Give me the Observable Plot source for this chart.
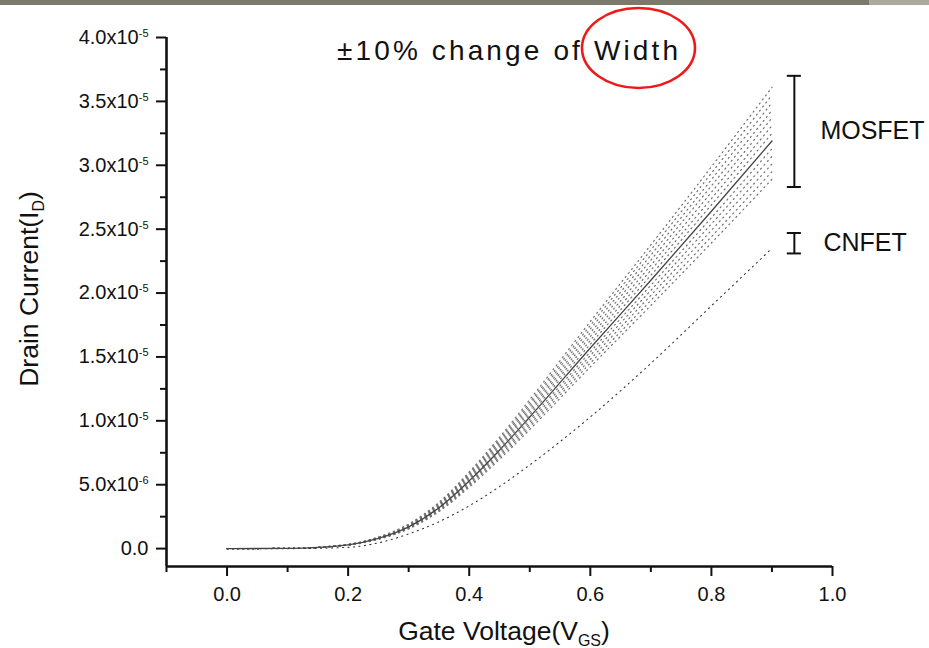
<!DOCTYPE html>
<html>
<head>
<meta charset="utf-8">
<script src="https://cdn.jsdelivr.net/npm/d3@7"></script>
<script src="https://cdn.jsdelivr.net/npm/@observablehq/plot@0.6"></script>
<style>
  html, body { margin: 0; padding: 0; background: #fff; }
  #chart svg { display: block; }
</style>
</head>
<body>
<div id="chart"></div>
<script>
// ---- Data (drain current in units of 1e-6 A) ----
const vgs = [0, 0.1, 0.2, 0.25, 0.3, 0.35, 0.4, 0.45, 0.5, 0.6, 0.7, 0.8, 0.9];

const mosfetNominal = [0, 0.02, 0.3, 0.8, 1.7, 3.2, 5.3, 7.7, 10.3, 15.7, 21.0, 26.4, 31.9];

const mosfetUp7 = [0, 0.02, 0.34, 0.91, 1.92, 3.62, 6.0, 8.71, 11.66, 17.77, 23.77, 29.88, 36.1];
const mosfetUp6 = [0, 0.02, 0.33, 0.89, 1.89, 3.56, 5.9, 8.57, 11.46, 17.47, 23.37, 29.38, 35.5];
const mosfetUp5 = [0, 0.02, 0.33, 0.88, 1.86, 3.5, 5.8, 8.42, 11.27, 17.18, 22.97, 28.88, 34.9];
const mosfetUp4 = [0, 0.02, 0.32, 0.86, 1.83, 3.44, 5.7, 8.28, 11.07, 16.88, 22.58, 28.39, 34.3];
const mosfetUp3 = [0, 0.02, 0.32, 0.85, 1.8, 3.38, 5.6, 8.13, 10.88, 16.59, 22.18, 27.89, 33.7];
const mosfetUp2 = [0, 0.02, 0.31, 0.83, 1.76, 3.32, 5.5, 7.99, 10.69, 16.29, 21.79, 27.39, 33.1];
const mosfetUp1 = [0, 0.02, 0.31, 0.82, 1.73, 3.26, 5.4, 7.84, 10.49, 16.0, 21.39, 26.9, 32.5];
const mosfetDn1 = [0, 0.02, 0.29, 0.78, 1.67, 3.14, 5.2, 7.56, 10.11, 15.4, 20.61, 25.9, 31.3];
const mosfetDn2 = [0, 0.02, 0.29, 0.77, 1.64, 3.08, 5.1, 7.41, 9.91, 15.11, 20.21, 25.41, 30.7];
const mosfetDn3 = [0, 0.02, 0.28, 0.75, 1.6, 3.02, 5.0, 7.27, 9.72, 14.81, 19.82, 24.91, 30.1];
const mosfetDn4 = [0, 0.02, 0.28, 0.74, 1.57, 2.96, 4.9, 7.12, 9.53, 14.52, 19.42, 24.41, 29.5];
const mosfetDn5 = [0, 0.02, 0.27, 0.72, 1.54, 2.9, 4.8, 6.98, 9.33, 14.22, 19.03, 23.92, 28.9];

const cnfet = [0, 0, 0.1, 0.45, 1.15, 2.1, 3.35, 4.85, 6.55, 10.3, 14.5, 19.0, 23.5];

// spread markers (A) and their labels
const rangeLabels = ["MOSFET", "CNFET"];
const rangeTop = [3.7e-5, 2.47e-5];
const rangeBottom = [2.83e-5, 2.31e-5];
const rangeLabelY = [3.27e-5, 2.39e-5];
const rangeLabelX = [0.98, 0.985];

// axes
const xTicks = [0, 0.2, 0.4, 0.6, 0.8, 1.0];
const xTickLabels = ["0.0", "0.2", "0.4", "0.6", "0.8", "1.0"];
const xMinorTicks = [-0.1, 0.1, 0.3, 0.5, 0.7, 0.9];
const yTicks = [0, 5e-6, 1e-5, 1.5e-5, 2e-5, 2.5e-5, 3e-5, 3.5e-5, 4e-5];
const yTickLabels = ["0.0", "5.0x10^-6", "1.0x10^-5", "1.5x10^-5", "2.0x10^-5",
                     "2.5x10^-5", "3.0x10^-5", "3.5x10^-5", "4.0x10^-5"];
const yMinorTicks = [2.5e-6, 7.5e-6, 1.25e-5, 1.75e-5, 2.25e-5, 2.75e-5, 3.25e-5, 3.75e-5];

const xDomain = [-0.1, 1.0];
const yDomain = [-1.4e-6, 4e-5];

// ---- Build tables ----
const toRows = (arr, name) => arr.map((v, i) => ({ v: vgs[i], id: v * 1e-6, curve: name }));
const variants = [
  [mosfetUp7, "u7"], [mosfetUp6, "u6"], [mosfetUp5, "u5"], [mosfetUp4, "u4"],
  [mosfetUp3, "u3"], [mosfetUp2, "u2"], [mosfetUp1, "u1"], [mosfetDn1, "d1"],
  [mosfetDn2, "d2"], [mosfetDn3, "d3"], [mosfetDn4, "d4"], [mosfetDn5, "d5"]
];
const variantRows = variants.flatMap(([a, n]) => toRows(a, n));
const nominalRows = toRows(mosfetNominal, "nominal");
const cnfetRows = toRows(cnfet, "cnfet");

const ranges = rangeLabels.map((l, i) => ({ label: l, top: rangeTop[i], bottom: rangeBottom[i], ly: rangeLabelY[i], lx: rangeLabelX[i] }));
const barX = 0.937, capHalf = 0.0116;
const caps = ranges.flatMap(r => [{ y: r.top }, { y: r.bottom }]);

const FONT = "'Liberation Sans', Arial, Helvetica, sans-serif";

const chart = Plot.plot({
  width: 929,
  height: 648,
  marginLeft: 166,
  marginRight: 97,
  marginTop: 37,
  marginBottom: 82,
  x: { domain: xDomain },
  y: { domain: yDomain },
  style: { fontFamily: FONT, fontSize: "20px", color: "#111", background: "#fff", overflow: "visible" },
  marks: [
    // curves
    Plot.line(variantRows, { x: "v", y: "id", z: "curve", stroke: "#707070", strokeWidth: 1.2,
      strokeDasharray: "1.1,4", curve: "monotone-x" }),
    Plot.line(cnfetRows, { x: "v", y: "id", stroke: "#333", strokeWidth: 1.1,
      strokeDasharray: "1.1,4.4", curve: "monotone-x" }),
    Plot.line(nominalRows, { x: "v", y: "id", stroke: "#444", strokeWidth: 1.3, curve: "monotone-x" }),

    // spread bars
    Plot.ruleX(ranges, { x: () => barX, y1: "top", y2: "bottom", stroke: "#111", strokeWidth: 2 }),
    Plot.ruleY(caps, { y: "y", x1: () => barX - capHalf, x2: () => barX + capHalf, stroke: "#111", strokeWidth: 2 }),
    Plot.text(ranges, { x: "lx", y: "ly", text: "label",
      textAnchor: "start", fontSize: 25, fill: "#111" }),

    // axes
    Plot.axisX({ ticks: xMinorTicks, tickSize: 6, strokeWidth: 2, tickFormat: () => "", label: null }),
    Plot.axisX({ ticks: xTicks, tickSize: 10, tickPadding: 10, strokeWidth: 2, fontSize: 20,
      tickFormat: (d) => xTickLabels[xTicks.findIndex(t => Math.abs(t - d) < 1e-9)], label: null }),
    Plot.axisY({ ticks: yMinorTicks, tickSize: 6, strokeWidth: 2, tickFormat: () => "", label: null }),
    Plot.axisY({ ticks: yTicks, tickSize: 10, tickPadding: 8, strokeWidth: 2, fontSize: 20,
      tickFormat: (d) => yTickLabels[yTicks.findIndex(t => Math.abs(t - d) < 1e-12)], label: null }),
    Plot.ruleX([xDomain[0]], { stroke: "#111", strokeWidth: 2.6 }),
    Plot.ruleY([yDomain[0]], { stroke: "#111", strokeWidth: 2.6 })
  ]
});

document.getElementById("chart").appendChild(chart);
const svg = d3.select(chart);

// superscript exponents on y tick labels
svg.selectAll('g[aria-label="y-axis tick label"] text').each(function () {
  const t = this.textContent;
  if (t && t.includes("^")) {
    const [m, e] = t.split("^");
    const s = d3.select(this);
    s.text(null);
    s.append("tspan").text(m);
    s.append("tspan").attr("dy", -7).attr("font-size", 11).text(e);
  }
});

// top decorative bar
svg.append("rect").attr("x", 0).attr("y", 0).attr("width", 869).attr("height", 5).attr("fill", "#7a7a6a");
svg.append("rect").attr("x", 869).attr("y", 0).attr("width", 60).attr("height", 5).attr("fill", "#a9a99c");

// title
svg.append("text")
  .attr("x", 337).attr("y", 60)
  .attr("text-anchor", "start")
  .attr("font-family", FONT).attr("font-size", 28).attr("fill", "#111")
  .attr("textLength", 341).attr("lengthAdjust", "spacing")
  .text("±10% change of Width");

// red ellipse highlight
svg.append("ellipse")
  .attr("cx", 638.5).attr("cy", 48).attr("rx", 56.5).attr("ry", 40)
  .attr("fill", "none").attr("stroke", "#ee1a1a").attr("stroke-width", 2.6);

// axis titles
const yl = svg.append("text")
  .attr("transform", "translate(38,289) rotate(-90)")
  .attr("text-anchor", "middle")
  .attr("font-family", FONT).attr("font-size", 26.5).attr("fill", "#111");
yl.append("tspan").text("Drain Current(I");
yl.append("tspan").attr("dy", 6).attr("font-size", 16).text("D");
yl.append("tspan").attr("dy", -6).text(")");

const xl = svg.append("text")
  .attr("x", 504).attr("y", 640)
  .attr("text-anchor", "middle")
  .attr("font-family", FONT).attr("font-size", 26.5).attr("fill", "#111");
xl.append("tspan").text("Gate Voltage(V");
xl.append("tspan").attr("dy", 6).attr("font-size", 16).text("GS");
xl.append("tspan").attr("dy", -6).text(")");
</script>
</body>
</html>
